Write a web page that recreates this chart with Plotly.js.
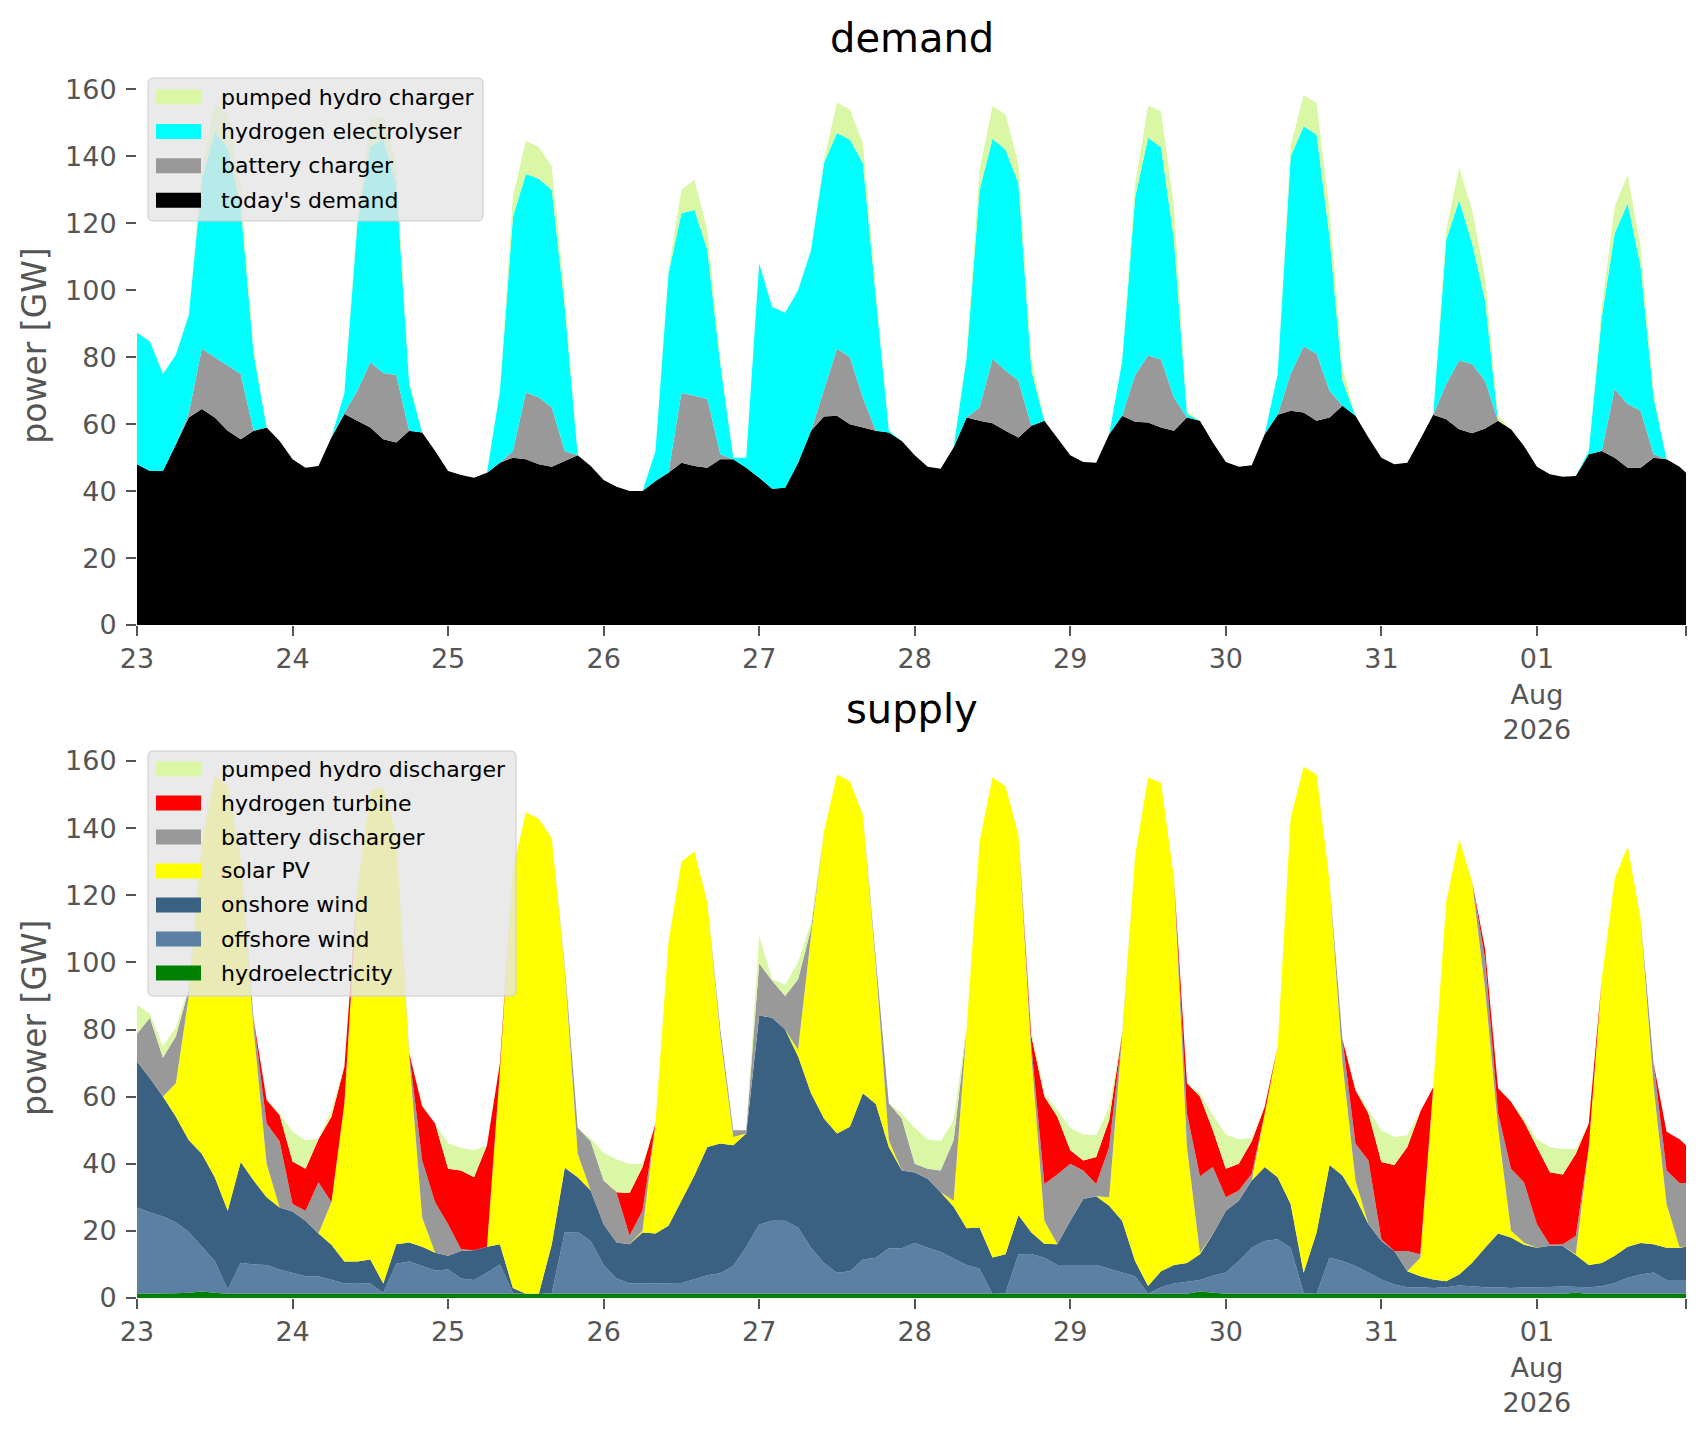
<!DOCTYPE html>
<html>
<head>
<meta charset="utf-8">
<script src="https://cdn.plot.ly/plotly-3.0.1.min.js"></script>
<style>body{margin:0;background:#fff}</style>
</head>
<body>
<div id="chart" style="width:1706px;height:1431px"></div>
<script>
"use strict";

// GW, every 2 hours from 23 Jul 00:00, one row per day, last row ends with 1 Aug 23:00

const todaysDemand = [
  48,46,46,54,62,64.5,62,58,55.5,58,59,55,
  49.5,47,47.5,56,63,61,59,55.5,54.5,58,57.5,52,
  46,44.8,44,45.5,48.5,50,49.5,48,47.3,49,50.7,47.5,
  43.3,41.3,40,40,43,45.5,48.5,47.5,47,49.5,49.5,47,
  44,40.7,41,48.5,58,62.3,62.5,60,59,58,57.5,55,
  50.7,47.3,46.7,53,62,61,60.3,58,56,59.5,61,56,
  50.7,48.7,48.5,57,62.5,60.7,60.5,59,58,62,61,54.5,
  48.7,47.3,47.7,57,62.8,64,63.5,61,62,65.5,62.5,56,
  50,48,48.5,55.5,62.8,61.5,58.5,57.3,58.7,61,58.5,53.5,
  47.3,45,44.3,44.5,51,52,50,47,47,50,49.5,47.3,45.5
];

const batteryCharger = [
  0,0,0,0,1.3,18,18,19.5,19.5,0,0,0,
  0,0,0,0,0.5,9,19.5,19.8,20.2,0,0,0,
  0,0,0,0,0,2,20,20,17.7,3,0,0,
  0,0,0,0,0,0,20.8,21,20.5,1.5,0,0,
  0,0,0,0,0,8,20,20,9,0,0,0,
  0,0,0,0,0,4,19.2,18,17,0,0,0,
  0,0,0,0,0,14,20,20.3,10,0,0,0,
  0,0,0,0,0,11,19.8,20,8,0,0,0,
  0,0,0,0,0,10.5,20.5,20.7,14.3,0,0,0,
  0,0,0,0,0,0,20.5,19,17,1,0,0,0
];

const hydrogenElectrolyser = [
  39.3,38.7,29,26.7,29.4,50.5,67.3,65.2,50,23,0,0,
  0,0,0,0,5.8,50,64.5,69.7,57.3,14,0,0,
  0,0,0,0,21.5,70,65.2,65.3,65,43,0,0,
  0,0,0,0,9,59.5,53.7,55.5,44.5,27,0.5,3,
  64,54.3,52.3,51.5,54,67.7,64.5,65,70,39,0.5,0,
  0,0,0,0,18,65,65.8,66,59,16.5,0,0,
  0,0,0,0,16.2,53,65.1,63.4,47,1,0,0,
  0,0,0,0,12.2,65,65.7,65.5,46,7.5,0,0,
  0,0,0,0,0,43,48,36,24,0,0,0,
  0,0,0,0,1,40,46.5,60,43,17,0,0,0
];

const pumpedHydroCharger = [
  0,0,0,0,0,3,8.4,10,6,2,0,0,
  0,0,0,0,0,2,8,7,6,1,0,0,
  0,0,0,0,0,6,10,9.5,7,4,0,0,
  0,0,0,0,0,1,7,9,6,2,0,0,
  0,0,0,0,0,1,9,9,6,3,0,0,
  0,0,0,0,1,6,9.7,10.5,6,4,0,0,
  0,0,0,0,0,4,9.5,10.8,10,1,0,0,
  0,0,0,0,0,3,9.3,9.5,8,4,0,0,
  0,0,0,0,0,3,9.7,10,7,1.5,0,0,
  0,0,0,0,0,3,8,8.5,6,2,0,0,0
];

const hydroelectricity = [
  1.3,1.3,1.3,1.4,1.6,1.9,1.6,1.3,1.3,1.3,1.3,1.3,
  1.3,1.3,1.3,1.3,1.3,1.3,1.3,1.3,1.3,1.3,1.3,1.3,
  1.3,1.3,1.3,1.3,1.3,1.3,1.3,1.3,1.3,1.3,1.3,1.3,
  1.3,1.3,1.3,1.3,1.3,1.3,1.3,1.3,1.3,1.3,1.3,1.3,
  1.3,1.3,1.3,1.3,1.3,1.3,1.3,1.3,1.3,1.3,1.3,1.3,
  1.3,1.3,1.3,1.3,1.3,1.3,1.3,1.3,1.3,1.3,1.3,1.3,
  1.3,1.3,1.3,1.3,1.3,1.3,1.3,1.3,1.3,1.3,1.9,1.5,
  1.3,1.3,1.3,1.3,1.3,1.3,1.3,1.3,1.3,1.3,1.3,1.3,
  1.3,1.3,1.3,1.3,1.3,1.3,1.3,1.3,1.3,1.3,1.3,1.3,
  1.3,1.3,1.3,1.6,1.3,1.3,1.3,1.3,1.3,1.3,1.3,1.3,1.3
];

const offshoreWind = [
  25.7,24.2,23,21.1,18.1,13.6,9.4,1.2,9.2,8.7,8.5,7.2,
  6.3,5.2,5.2,4.1,3,3.2,3,0.2,8.9,9.6,8.2,6.9,
  7.2,4.5,4.1,6.2,8.7,0.2,0,0,0.2,18.2,18.4,15.7,
  8.5,4.5,3,3,3,3,3.2,4.3,5.5,6.1,8.2,14,
  20.6,21.7,21.7,19.7,13.7,9.1,6.2,6.7,10.2,10.7,13.5,13.5,
  15.1,13.7,12.4,10.5,8.5,7.4,0,0.2,11.7,11.8,10.7,8.5,
  8.5,8.5,8.5,7.4,6.3,5.2,0,1.9,3,3.6,3.5,5.1,
  6.3,9.7,13.7,15.7,16.2,13.7,0.2,0,10.7,9.7,8.2,6.3,
  4.2,2.7,1.9,1.9,1.7,1.9,2.4,2.2,1.9,1.9,1.7,1.8,
  2,2,2.1,1.7,1.9,2.2,3.2,4.7,5.7,6.3,4.1,4.1,4.1
];

const onshoreWind = [
  43.5,40,35.7,31.5,27.3,27.5,25,23.5,30,25,20.2,18.5,
  18.2,16.5,12.7,10.5,6.6,6.4,7.2,2.8,5.8,5.6,5.8,5.3,
  4.1,8.2,8.8,7.8,6,1.5,0,0,14.5,19.3,16.3,15,
  12.2,10.7,11.7,15.2,14.9,17.2,24.5,30.9,38.2,38.6,36,33.7,
  62.3,60.5,57,51,46,43.1,41.5,43,49.5,45.8,30.2,23.2,
  21,20.5,17.8,15.4,11,12.3,10.8,11.5,11.7,6.4,4.2,6.2,
  13.2,19.7,20.5,18.8,15.4,4.5,2.3,4.8,5.5,5.5,7.6,12.4,
  18.4,18,20,22,18.5,13,6,18.2,27.6,25.5,20.5,14.4,
  11.5,10,4.8,3.3,2.5,1.8,3.3,7,11.8,16,15,12.8,
  11.7,12.3,12.1,9.5,6.6,6.9,8.1,9.3,9.4,8.4,9.6,9.6,9.9
];

const solarPV = [
  0,0,0,10,43,93,119.7,126.7,90.5,45,10,0,
  0,0,0,12.6,47.1,111.1,139.5,147.7,122,55.5,8.7,0,
  0,0,0,0,52,125,143.4,141.5,121,59.2,7,0,
  0,0,0,0.5,32.8,84.5,101,96.5,73,32,2.5,0,
  0,0,0,2,47,85.5,107,103,83,41.2,2,0,
  0,0,0,1.8,59.2,115,143,139.5,113.3,52.5,6.8,0,
  0,0,0,2.5,55,120.7,151.5,145.5,115.2,34.6,0.5,0,
  0,0,0,16,39,115,150.8,136.5,84.4,33.5,5,0,
  0,0,0,5.5,57.3,113,129.7,113.5,77,31.4,2,0.6,
  0,0,0,0.2,35.2,84.6,112.4,119.2,96.6,47,13,0.2,0
];

const batteryDischarger = [
  8.2,18,11.6,14,2,0,0,0,0,3,12,19.7,
  2.2,3,15.3,0,0,0,0,0,0,1,17,15,
  9.4,0.5,0,0,0,0,0,0,0,1,7.7,14.7,
  13,14.8,2.6,6,0,0,0,0,0,2,2,1,
  15.5,11,10,21,2,0,0,0,0,1,11,15.5,
  2.6,3,6.5,18,0,0,0,0,0,3,11,20.8,
  17,8.5,3.7,15,0.7,0,0,0,0,10,22.8,20,
  4,3,2,0,0,0,0,0,0,7,11,19,
  0.5,0,6,1,0,0,0,0,9,4.4,18.5,18,
  7,0.3,0.5,5.5,0,0,0,0,0,7,10,19.1,19
];

const hydrogenTurbine = [
  0,0,0,0,0,0,0,0,0,0,7,7.8,
  12.7,12.5,12.8,25.5,11,0,0,0,0,0,16.2,23.5,
  16.5,23.5,21.8,30.2,2,0,0,0,0,0,0,0,
  0,0.2,12.7,13,0,0,0,0,0,0,0,0,
  0,0,0,0,0,0,0,0,0,0,0,0,
  0,0,0,0,0,0,0,0,0,3,26,17.2,
  4,3,8,8,0,0,0,0,0,9,23.7,11,
  8.5,8,9.7,2,0,0,0,0,0,0,16,14,
  23,25.6,31,42.5,0,0,0,0,3,7.5,20,18,
  23,21.6,20.8,24.5,7,0,0,0,0,0,11.5,13,11.2
];

const pumpedHydroDischarger = [
  8.6,1.2,3.4,2.7,0.7,0,0,0,0,0,0,0.5,
  8.8,8.5,0.2,2,0.3,0,0,0,0,0,0.3,0,
  7.5,6.8,8,0,0,0,0,0,0,0,0,0.8,
  8.3,9.8,8.7,1,0,0,0,0,0,0,0,0,
  8.3,0.5,3.3,5,2,0,0,0,0,0,0,1.5,
  10.7,8.8,8.7,6,1,0,0,0,0,2,1,2,
  6.7,7.7,6.5,4,0,0,0,0,0,0,1,4.5,
  10.2,7.3,1,0,0,0,0,0,0,0,0.5,1,
  9.5,8.4,3.5,0,0,0,0,0,0,0,0,1,
  2.3,7.5,7.5,1.5,0,0,0,0,0,0,0,0,0
];

const dayTicks = ['2026-07-23','2026-07-24','2026-07-25','2026-07-26','2026-07-27',
  '2026-07-28','2026-07-29','2026-07-30','2026-07-31','2026-08-01'];
const dayLabels = ['23','24','25','26','27','28','29','30','31','01<br>Aug<br>2026'];
const yTicks = [0,20,40,60,80,100,120,140,160];


function stamp(ms) {
  return new Date(ms).toISOString().slice(0, 16).replace('T', ' ');
}

const start = Date.UTC(2026, 6, 23);
const hour = 3600 * 1000;
const times = [];
for (let i = 0; i < 120; i++) {
  times.push(stamp(start + i * 2 * hour));
}
times.push(stamp(start + (9 * 24 + 23) * hour));

const demandSeries = [
  {name: "today's demand", y: todaysDemand, color: '#000000'},
  {name: 'battery charger', y: batteryCharger, color: '#999999'},
  {name: 'hydrogen electrolyser', y: hydrogenElectrolyser, color: '#00ffff'},
  {name: 'pumped hydro charger', y: pumpedHydroCharger, color: '#daf7a6'}
];

const supplySeries = [
  {name: 'hydroelectricity', y: hydroelectricity, color: '#008000'},
  {name: 'offshore wind', y: offshoreWind, color: '#5b80a3'},
  {name: 'onshore wind', y: onshoreWind, color: '#3b6182'},
  {name: 'solar PV', y: solarPV, color: '#ffff00'},
  {name: 'battery discharger', y: batteryDischarger, color: '#999999'},
  {name: 'hydrogen turbine', y: hydrogenTurbine, color: '#ff0000'},
  {name: 'pumped hydro discharger', y: pumpedHydroDischarger, color: '#daf7a6'}
];

function areaTrace(s, group, xa, ya) {
  return {
    x: times,
    y: s.y,
    name: s.name,
    type: 'scatter',
    mode: 'lines',
    stackgroup: group,
    line: {color: s.color, width: 0},
    fillcolor: s.color,
    xaxis: xa,
    yaxis: ya
  };
}

const traces = [];
demandSeries.forEach(s => traces.push(areaTrace(s, 'demand', 'x', 'y')));
supplySeries.forEach(s => traces.push(areaTrace(s, 'supply', 'x2', 'y2')));

// plot area in pixels: x 137..1686, y 66..1298
const L = 137, R = 1686, T = 66, B = 1298;
function px(x) { return (x - L) / (R - L); }
function py(y) { return (B - y) / (B - T); }

function xAxis(anchor) {
  return {
    anchor: anchor,
    type: 'date',
    range: [times[0], times[times.length - 1]],
    tickvals: dayTicks.concat([times[times.length - 1]]),
    ticktext: dayLabels.concat(['']),
    ticks: 'outside', ticklen: 10, tickwidth: 2, tickcolor: '#555555',
    ticklabelstandoff: 0,
    tickfont: {size: 27, color: '#555555'},
    showgrid: false, zeroline: false, showline: false
  };
}

function yAxis(domain) {
  return {
    domain: domain,
    range: [0, 167],
    tickvals: yTicks,
    ticks: 'outside', ticklen: 10, tickwidth: 2, tickcolor: '#555555',
    ticklabelstandoff: 4,
    tickfont: {size: 27, color: '#555555'},
    showgrid: false, zeroline: false, showline: false,
    title: {text: 'power [GW]', font: {size: 33, color: '#555555'}, standoff: 8}
  };
}

function roundBox(l, t, r, b, rad) {
  const P = (x, y) => px(x) + ',' + py(y);
  return 'M' + P(l + rad, t) + ' L' + P(r - rad, t) + ' Q' + P(r, t) + ' ' + P(r, t + rad) +
    ' L' + P(r, b - rad) + ' Q' + P(r, b) + ' ' + P(r - rad, b) +
    ' L' + P(l + rad, b) + ' Q' + P(l, b) + ' ' + P(l, b - rad) +
    ' L' + P(l, t + rad) + ' Q' + P(l, t) + ' ' + P(l + rad, t) + ' Z';
}

const shapes = [];
const annotations = [];

function legend(series, left, top, right, bottom, firstY, step) {
  shapes.push({
    type: 'path', xref: 'paper', yref: 'paper', layer: 'above',
    path: roundBox(left, top, right, bottom, 5),
    fillcolor: 'rgba(229,229,229,0.8)',
    line: {color: '#cccccc', width: 1}
  });
  series.slice().reverse().forEach((s, i) => {
    const cy = firstY + i * step;
    shapes.push({
      type: 'rect', xref: 'paper', yref: 'paper', layer: 'above',
      x0: px(156), x1: px(201), y0: py(cy + 7.5), y1: py(cy - 7.5),
      fillcolor: s.color, line: {width: 0}
    });
    annotations.push({
      xref: 'paper', yref: 'paper', x: px(219), y: py(cy),
      xanchor: 'left', yanchor: 'middle', showarrow: false,
      text: s.name, font: {size: 22, color: '#000000'}
    });
  });
}

legend(demandSeries, 148, 78, 483, 221, 97, 34.4);
legend(supplySeries, 148, 751, 516, 996, 769, 34);

annotations.push({
  xref: 'paper', yref: 'paper', x: 0.5, y: py(38), xanchor: 'center', yanchor: 'middle',
  showarrow: false, text: 'demand', font: {size: 40, color: '#000000'}
});
annotations.push({
  xref: 'paper', yref: 'paper', x: 0.5, y: py(709), xanchor: 'center', yanchor: 'middle',
  showarrow: false, text: 'supply', font: {size: 40, color: '#000000'}
});

const layout = {
  width: 1706,
  height: 1431,
  margin: {l: L, r: 1706 - R, t: T, b: 1431 - B},
  paper_bgcolor: '#ffffff',
  plot_bgcolor: '#ffffff',
  showlegend: false,
  font: {family: 'DejaVu Sans', color: '#555555'},
  xaxis: xAxis('y'),
  xaxis2: xAxis('y2'),
  yaxis: yAxis([py(625), 1]),
  yaxis2: yAxis([0, py(737.5)]),
  shapes: shapes,
  annotations: annotations
};

Plotly.newPlot('chart', traces, layout, {staticPlot: true});
</script>
</body>
</html>
